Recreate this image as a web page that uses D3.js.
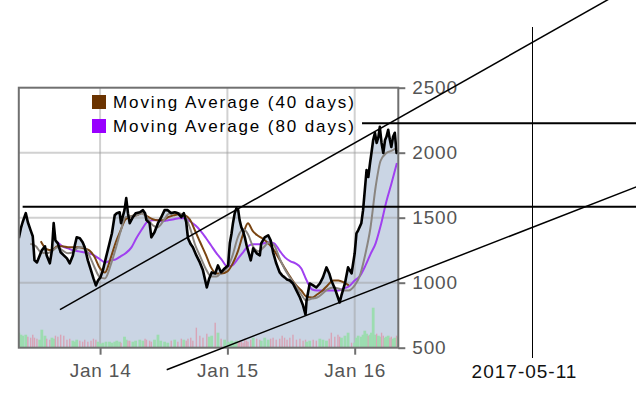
<!DOCTYPE html>
<html>
<head>
<meta charset="utf-8">
<script src="https://cdn.jsdelivr.net/npm/d3@7"></script>
<style>
  body { margin: 0; background: #fff; }
  svg { display: block; font-family: "Liberation Sans", Arial, sans-serif; }
</style>
</head>
<body>
<div class="chart"></div>
<script>
var w = 636;
var h = 395;

// daily close
var priceDates = [
  "2013-05-13","2013-05-19","2013-05-24","2013-06-02","2013-06-08","2013-06-16","2013-06-22","2013-06-27","2013-07-04","2013-07-12",
  "2013-07-18","2013-07-27","2013-08-01","2013-08-10","2013-08-16","2013-08-21","2013-08-26","2013-09-02","2013-09-10","2013-09-19",
  "2013-09-28","2013-10-06","2013-10-15","2013-10-20","2013-10-26","2013-11-04","2013-11-12","2013-11-18","2013-11-27","2013-12-06",
  "2013-12-13","2013-12-20","2013-12-26","2014-01-02","2014-01-09","2014-01-18","2014-01-28","2014-02-04","2014-02-12","2014-02-18",
  "2014-02-26","2014-03-02","2014-03-12","2014-03-17","2014-03-22","2014-03-27","2014-04-05","2014-04-13","2014-04-25","2014-05-04",
  "2014-05-10","2014-05-14","2014-05-23","2014-05-28","2014-06-06","2014-06-16","2014-06-24","2014-07-05","2014-07-14","2014-07-24",
  "2014-08-03","2014-08-12","2014-08-22","2014-08-29","2014-09-05","2014-09-10","2014-09-18","2014-09-24","2014-10-04","2014-10-14",
  "2014-10-23","2014-11-03","2014-11-10","2014-11-17","2014-11-27","2014-12-05","2014-12-14","2014-12-24","2015-01-03","2015-01-08",
  "2015-01-13","2015-01-17","2015-01-22","2015-01-27","2015-02-01","2015-02-05","2015-02-10","2015-02-15","2015-02-20","2015-02-25",
  "2015-03-01","2015-03-09","2015-03-16","2015-03-26","2015-04-04","2015-04-08","2015-04-18","2015-04-28","2015-05-05","2015-05-12",
  "2015-05-21","2015-05-31","2015-06-07","2015-06-14","2015-06-21","2015-06-29","2015-07-08","2015-07-18","2015-07-28","2015-08-06",
  "2015-08-13","2015-08-16","2015-08-25","2015-09-04","2015-09-13","2015-09-23","2015-10-02","2015-10-12","2015-10-20","2015-10-26",
  "2015-11-05","2015-11-14","2015-11-19","2015-11-24","2015-12-04","2015-12-13","2015-12-23","2016-01-01","2016-01-06","2016-01-11",
  "2016-01-20","2016-01-25","2016-01-30","2016-02-04","2016-02-09","2016-02-14","2016-02-18","2016-02-23","2016-02-28","2016-03-04",
  "2016-03-09","2016-03-13","2016-03-18","2016-03-23","2016-03-28","2016-04-01","2016-04-06","2016-04-11","2016-04-15","2016-04-20",
  "2016-04-25","2016-04-30","2016-05-05"
];
var priceValues = [
  1342,1419,1465,1535,1465,1403,1357,1172,1156,1210,
  1249,1280,1210,1149,1249,1458,1326,1303,1234,1210,
  1187,1149,1210,1280,1349,1342,1311,1272,1172,1095,
  1033,979,1017,1041,1095,1195,1303,1380,1519,1535,
  1542,1458,1558,1651,1535,1458,1504,1535,1542,1558,
  1535,1481,1458,1349,1388,1458,1496,1558,1558,1535,
  1542,1535,1504,1535,1465,1342,1295,1272,1210,1156,
  1095,963,1033,1079,1071,1133,1079,1110,1133,1303,
  1380,1458,1535,1573,1558,1481,1427,1396,1349,1288,
  1249,1172,1264,1226,1210,1303,1349,1365,1326,1234,
  1149,1079,1056,1041,1025,1017,994,940,886,824,
  755,863,994,979,963,994,1041,1118,1071,1017,
  956,886,848,902,994,1118,1071,1226,1380,1403,
  1458,1558,1712,1867,1813,1921,1998,2098,2153,2075,
  2122,2199,2075,1998,2098,2122,2176,2098,2044,2122,
  2153,1998,2021
];
// volume (thousands), one bar per price date
var volumes = [
  150,130,120,130,110,100,130,100,90,80,
  180,120,90,80,100,90,120,110,130,120,
  80,90,70,60,80,70,60,80,60,70,
  90,80,60,40,50,60,60,50,60,70,
  60,50,110,80,70,70,60,70,80,70,
  90,80,70,60,80,130,70,60,50,70,
  80,60,90,80,70,90,100,70,200,120,
  100,140,110,120,250,150,90,80,60,50,
  70,60,60,70,50,60,60,50,90,70,
  60,80,100,90,80,70,100,80,90,100,
  80,90,120,100,80,100,130,80,90,70,
  80,60,70,80,70,90,80,70,90,150,
  110,130,110,100,120,150,50,50,100,120,
  110,130,170,140,120,130,150,400,130,140,
  120,110,150,120,100,110,120,100,110,90,
  100,120,110
];

// moving averages, read twice a month
var maDates = [
  "2013-06-01","2013-06-15","2013-07-01","2013-07-15","2013-08-01","2013-08-15","2013-09-01","2013-09-15","2013-10-01","2013-10-15",
  "2013-11-01","2013-11-15","2013-12-01","2013-12-15","2014-01-01","2014-01-15","2014-02-01","2014-02-15","2014-03-01","2014-03-15",
  "2014-04-01","2014-04-15","2014-05-01","2014-05-15","2014-06-01","2014-06-15","2014-07-01","2014-07-15","2014-08-01","2014-08-15",
  "2014-09-01","2014-09-15","2014-10-01","2014-10-15","2014-11-01","2014-11-15","2014-12-01","2014-12-15","2015-01-01","2015-01-15",
  "2015-02-01","2015-02-15","2015-03-01","2015-03-15","2015-04-01","2015-04-15","2015-05-01","2015-05-15","2015-06-01","2015-06-15",
  "2015-07-01","2015-07-15","2015-08-01","2015-08-15","2015-09-01","2015-09-15","2015-10-01","2015-10-15","2015-11-01","2015-11-15",
  "2015-12-01","2015-12-15","2016-01-01","2016-01-15","2016-02-01","2016-02-15","2016-03-01","2016-03-15","2016-04-01","2016-04-15",
  "2016-05-01"
];
var ma20 = [
  null,1300,1280,1234,1226,1241,1272,1249,1226,1234,
  1272,1272,1210,1125,1041,1033,1141,1264,1396,1504,
  1512,1519,1535,1504,1442,1427,1473,1527,1542,1535,
  1512,1427,1288,1203,1102,1048,1048,1079,1118,1203,
  1357,1411,1373,1280,1241,1272,1311,1288,1180,1102,
  1033,979,909,863,878,886,917,948,963,956,
  940,940,979,1048,1226,1419,1736,1936,1998,2014,
  2037
];
var ma40 = [
  null,null,null,1319,1257,1249,1280,1280,1272,1272,
  1272,1264,1249,1203,1110,1079,1195,1311,1403,1488,
  1512,1519,1535,1512,1488,1481,1481,1504,1519,1527,
  1519,1488,1396,1311,1210,1118,1071,1071,1087,1141,
  1249,1373,1458,1396,1357,1334,1295,1249,1172,1110,
  1041,987,940,894,886,909,940,979,1017,1017,
  1002,979,null,null,null,null,null,null,null,null,
  null
];
var ma80 = [
  null,null,null,null,null,null,1311,1280,1264,1249,
  1241,1234,1226,1210,1180,1156,1172,1180,1203,1226,
  1272,1342,1411,1465,1481,1481,1473,1481,1488,1496,
  1496,1473,1442,1403,1342,1288,1226,1180,1125,1133,
  1187,1234,1280,1295,1295,1303,1311,1303,1241,1195,
  1164,1149,1110,1025,948,940,940,940,940,940,
  956,971,1017,1048,1133,1218,1303,1434,1627,1759,
  1921
];

var legendLabels = ["Moving Average (40 days)", "Moving Average (80 days)"];
var legendColors = ["#6b3300", "#9900ff"];
var yTicks = [500, 1000, 1500, 2000, 2500];
var xTicks = ["2014-01-01", "2015-01-01", "2016-01-01"];
var markerDate = "2017-05-11";

// drawn studies
var supportLine = {from: "2013-05-24", value: 1585};
var resistanceLine = {from: "2016-01-22", value: 2226};
var channelUpper = [["2013-09-08", 793], ["2016-03-29", 2209]];
var channelLower = [["2014-07-11", 330], ["2015-08-12", 745]];

var parse = d3.timeParse("%Y-%m-%d");
var plotL = 18.8, plotR = 398.3, plotT = 87.7, plotB = 347.7;

var x = d3.scaleTime()
    .domain([parse("2013-05-13"), parse("2016-05-05"), parse(markerDate)])
    .range([plotL, plotR, 532.5]);
var y = d3.scaleLinear().domain([500, 2500]).range([plotB, plotT]);
var yVol = d3.scaleLinear().domain([0, 400]).range([plotB, plotB - 40]);

var prices = priceDates.map(function(d, i) { return {date: parse(d), value: priceValues[i], vol: volumes[i]}; });

var svg = d3.select(".chart").append("svg")
    .attr("width", w)
    .attr("height", h);

svg.append("defs").append("clipPath").attr("id", "plot")
  .append("rect")
    .attr("x", plotL).attr("y", plotT)
    .attr("width", plotR - plotL).attr("height", plotB - plotT);

var plot = svg.append("g").attr("clip-path", "url(#plot)");

plot.append("rect")
    .attr("x", plotL).attr("y", plotT)
    .attr("width", plotR - plotL).attr("height", plotB - plotT)
    .attr("fill", "#fff");

// price area
plot.append("path")
    .datum(prices)
    .attr("fill", "#cad5e4")
    .attr("d", d3.area()
        .x(function(d) { return x(d.date); })
        .y0(plotB)
        .y1(function(d) { return y(d.value); }));

// grid
plot.selectAll(".hgrid")
    .data([1000, 1500, 2000])
    .enter().append("line")
    .attr("x1", plotL).attr("x2", plotR)
    .attr("y1", function(d) { return y(d); })
    .attr("y2", function(d) { return y(d); })
    .attr("stroke", "#999").attr("stroke-opacity", 0.45).attr("stroke-width", 2);
plot.selectAll(".vgrid")
    .data(xTicks)
    .enter().append("line")
    .attr("x1", function(d) { return x(parse(d)); })
    .attr("x2", function(d) { return x(parse(d)); })
    .attr("y1", plotT).attr("y2", plotB)
    .attr("stroke", "#999").attr("stroke-opacity", 0.45).attr("stroke-width", 2);

// volume: green for up days, thin pink spikes for down days
function isUp(d, i) { return i == 0 || d.value >= prices[i - 1].value; }
plot.selectAll(".vol")
    .data(prices)
    .enter().append("rect")
    .attr("x", function(d, i) { return x(d.date) - (isUp(d, i) ? 1.4 : 0.7); })
    .attr("width", function(d, i) { return isUp(d, i) ? 2.8 : 1.4; })
    .attr("y", function(d) { return yVol(d.vol); })
    .attr("height", function(d) { return plotB - yVol(d.vol); })
    .attr("fill", function(d, i) { return isUp(d, i) ? "#9cdcb0" : "#d8a4b6"; });

// moving averages
function maLine(values, color, width) {
    var pts = maDates.map(function(d, i) { return {date: parse(d), value: values[i]}; });
    plot.append("path")
        .datum(pts)
        .attr("fill", "none")
        .attr("stroke", color)
        .attr("stroke-width", width)
        .attr("d", d3.line()
            .defined(function(d) { return d.value != null; })
            .curve(d3.curveMonotoneX)
            .x(function(d) { return x(d.date); })
            .y(function(d) { return y(d.value); }));
}
maLine(ma80, "#a040f0", 2);
maLine(ma40, "#7a4512", 2);
maLine(ma20, "#8a8580", 2);

// price line
plot.append("path")
    .datum(prices)
    .attr("fill", "none")
    .attr("stroke", "#000")
    .attr("stroke-width", 2.6)
    .attr("stroke-linejoin", "round")
    .attr("d", d3.line()
        .x(function(d) { return x(d.date); })
        .y(function(d) { return y(d.value); }));

// frame
svg.append("rect")
    .attr("x", plotL).attr("y", plotT)
    .attr("width", plotR - plotL).attr("height", plotB - plotT)
    .attr("fill", "none").attr("stroke", "#707070").attr("stroke-width", 2);

// axes
var yAxis = svg.append("g")
    .attr("transform", "translate(" + plotR + ",0)")
    .call(d3.axisRight(y).tickValues(yTicks).tickFormat(d3.format("d")).tickSize(7).tickPadding(7));
var xAxis = svg.append("g")
    .attr("transform", "translate(0," + plotB + ")")
    .call(d3.axisBottom(x).tickValues(xTicks.map(parse))
        .tickFormat(d3.timeFormat("Jan %y")).tickSize(7).tickPadding(9));
[yAxis, xAxis].forEach(function(g) {
    g.select(".domain").remove();
    g.selectAll(".tick line").attr("stroke", "#707070").attr("stroke-width", 2);
    g.selectAll(".tick text")
        .attr("fill", "#555")
        .attr("font-size", "19px")
        .attr("letter-spacing", "0.8px")
        .attr("font-family", "Liberation Sans, Arial, sans-serif");
});

// legend
var legend = svg.append("g");
legendLabels.forEach(function(label, i) {
    legend.append("rect")
        .attr("x", 92).attr("y", 95 + i * 24)
        .attr("width", 14).attr("height", 14)
        .attr("fill", legendColors[i]);
    legend.append("text")
        .attr("x", 113).attr("y", 108 + i * 24)
        .attr("font-size", "17px")
        .attr("letter-spacing", "1.9px")
        .attr("fill", "#000")
        .text(label);
});

// studies drawn over the chart
function ray(p1, p2) {
    var x1 = x(parse(p1[0])), y1 = y(p1[1]);
    var x2 = x(parse(p2[0])), y2 = y(p2[1]);
    var m = (y2 - y1) / (x2 - x1);
    var xe = w + 40;
    svg.append("line")
        .attr("x1", x1).attr("y1", y1)
        .attr("x2", xe).attr("y2", y1 + m * (xe - x1))
        .attr("stroke", "#000").attr("stroke-width", 1.5);
}
ray(channelUpper[0], channelUpper[1]);
ray(channelLower[0], channelLower[1]);

[supportLine, resistanceLine].forEach(function(l) {
    svg.append("line")
        .attr("x1", x(parse(l.from))).attr("x2", w)
        .attr("y1", y(l.value)).attr("y2", y(l.value))
        .attr("stroke", "#000").attr("stroke-width", 2);
});

svg.append("line")
    .attr("x1", x(parse(markerDate))).attr("x2", x(parse(markerDate)))
    .attr("y1", 27).attr("y2", 358)
    .attr("stroke", "#000").attr("stroke-width", 1);
svg.append("text")
    .attr("x", x(parse(markerDate)) - 8).attr("y", 378)
    .attr("text-anchor", "middle")
    .attr("font-size", "19px")
    .attr("letter-spacing", "1px")
    .attr("fill", "#111")
    .text(markerDate);
</script>
</body>
</html>
